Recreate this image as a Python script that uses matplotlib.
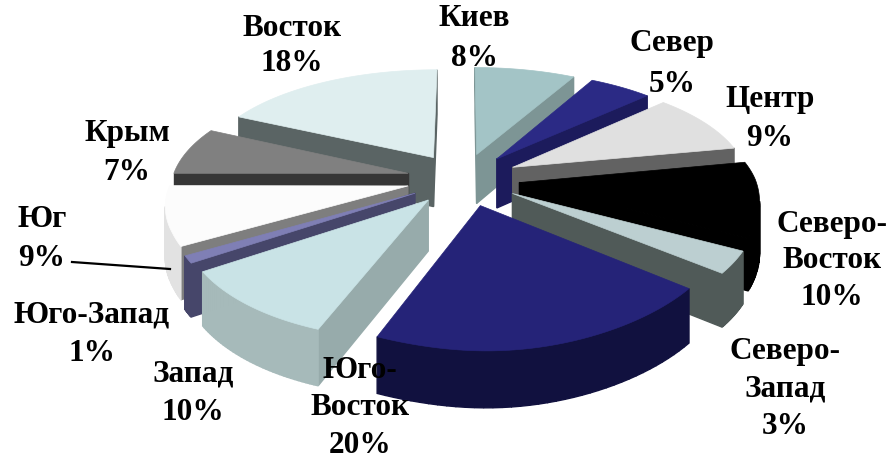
import numpy as np
import matplotlib
matplotlib.use('Agg')
import matplotlib.pyplot as plt

plt.rcParams['font.family'] = ['Liberation Serif', 'DejaVu Serif']

names = ['Киев', 'Север', 'Центр', 'Северо-\nВосток', 'Северо-\nЗапад', 'Юго-\nВосток',
         'Запад', 'Юго-Запад', 'Юг', 'Крым', 'Восток']
values = [8, 5, 9, 10, 3, 20, 10, 1, 9, 7, 18]

# colours: top face, cut wall, outer wall
top_colors = ['#a3c4c6', '#2b2a85', '#e0e0e0', '#000000', '#bccfd1', '#252378',
              '#c9e3e6', '#7f7fb5', '#fcfcfc', '#808080', '#dfeeef']
cut_colors = ['#7d9595', '#1c1b5c', '#626262', '#000000', '#505a58', '#11113f',
              '#97abab', '#46466a', '#7e7e7e', '#363636', '#5a6464']
arc_colors = ['#7d9595', '#1c1b5c', '#626262', '#000000', '#505a58', '#11113f',
              '#a6baba', '#46466a', '#e2e2e2', '#363636', '#5a6464']

label_pos = [(474, 39), (672, 64), (770, 119), (832, 261), (785, 389), (360, 408),
             (193, 393), (92, 334), (42, 239), (127, 153), (292, 46)]
label_spacing = [1.5, 1.5, 1.42, 1.36, 1.4, 1.38, 1.45, 1.42, 1.42, 1.45, 1.27]

# projection of the tilted disc, in pixels
cx, cy = 463, 180
rx, ry = 236, 109.4
persp_x = 0.14
persp_y = 0.17
lean = 14
tilt = 6
explode = 0.24
depth = 50


def project(u, v):
    x = cx + rx * u / (1 + persp_x * v)
    y = cy - ry * v / (1 + persp_y * v)
    if v < 0:
        # front of the pie leans left and turns slightly
        x -= lean * v ** 2
        y += tilt * np.tanh(3 * u) * min(-2 * v, 1)
    return x, y, depth / (1 + 0.1 * v)


def wall(ax, p, q, color):
    # the wall below an edge faces the viewer only if the edge runs leftwards
    if q[0] >= p[0]:
        return
    ax.fill([p[0], q[0], q[0], p[0]], [p[1], q[1], q[1] + q[2], p[1] + p[2]],
            color=color, lw=1)


def draw_slice(ax, start, end, i):
    mid = (start + end) / 2
    ou, ov = explode * np.sin(mid), explode * np.cos(mid)
    t = np.linspace(start, end, 40)
    apex = project(ou, ov)
    rim = [project(ou + np.sin(a), ov + np.cos(a)) for a in t]

    wall(ax, apex, rim[0], cut_colors[i])
    wall(ax, rim[-1], apex, cut_colors[i])
    for p, q in zip(rim[:-1], rim[1:]):
        wall(ax, p, q, arc_colors[i])
    pts = [apex] + rim
    ax.fill([p[0] for p in pts], [p[1] for p in pts], color=top_colors[i], lw=0.5)


def main():
    fig, ax = plt.subplots()
    fig.set_size_inches(8.9, 4.64)
    fig.subplots_adjust(0, 0, 1, 1)
    ax.set_xlim(0, 890)
    ax.set_ylim(464, 0)
    ax.axis('off')

    edges = np.cumsum([0] + values) / sum(values) * 2 * np.pi
    mids = (edges[:-1] + edges[1:]) / 2
    # back slices first
    for i in np.argsort(-np.cos(mids)):
        draw_slice(ax, edges[i], edges[i + 1], i)

    ax.plot((72, 170), (263, 270), color='black', lw=1.6)

    for i, name in enumerate(names):
        x, y = label_pos[i]
        ax.text(x, y, f'{name}\n{values[i]}%', ha='center', va='center', fontsize=22.5,
                fontweight='bold', color='black', linespacing=label_spacing[i])

    plt.savefig('out.png', dpi=100)


if __name__ == '__main__':
    main()
